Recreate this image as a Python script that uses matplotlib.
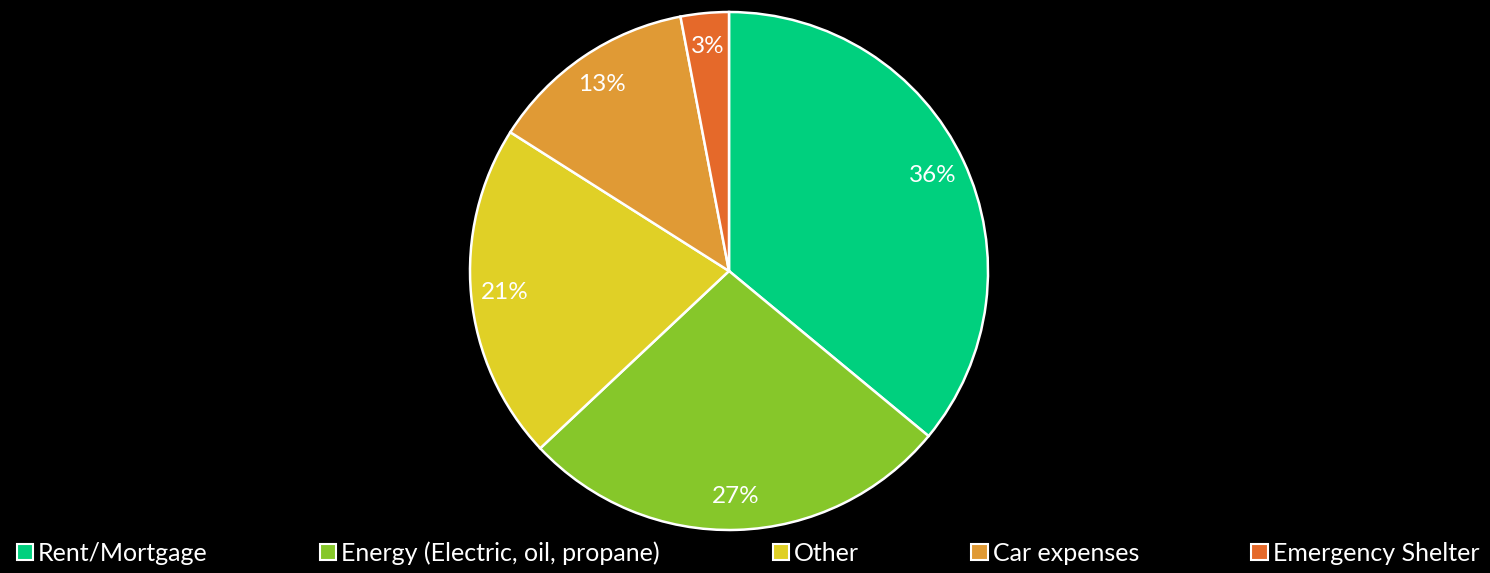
import matplotlib
matplotlib.use("Agg")
import matplotlib.pyplot as plt
from matplotlib.patches import Patch

categories = ["Rent/Mortgage", "Energy (Electric, oil, propane)", "Other", "Car expenses", "Emergency Shelter"]
values = [36, 27, 21, 13, 3]
colors = ["#00D07E", "#86C72A", "#E0D026", "#E09A35", "#E5692A"]

plt.rcParams['font.family'] = ['Lato', 'DejaVu Sans']

W, H = 1490, 573
fig = plt.figure(figsize=(W / 100, H / 100), dpi=100, facecolor="black")
ax = fig.add_axes([0, 0, 1, 1])
ax.set_facecolor("black")

wedges, texts, autotexts = ax.pie(
    values, colors=colors, startangle=90, counterclock=False,
    center=(729, H - 271), radius=259,
    autopct="%d%%", pctdistance=0.87,
    wedgeprops=dict(edgecolor="white", linewidth=1.8),
    textprops=dict(color="white", fontsize=17.5),
)
ax.set_xlim(0, W)
ax.set_ylim(0, H)
ax.set_aspect("equal")
ax.axis("off")

handles = [Patch(facecolor=c, edgecolor="white", linewidth=1.5) for c in colors]
leg = fig.legend(handles, categories, loc="center", bbox_to_anchor=(0.502, 1 - 553 / H),
                 ncol=5, frameon=False, fontsize=18, labelcolor="white",
                 handlelength=0.65, handleheight=0.65, handletextpad=0.2,
                 columnspacing=4.5, borderaxespad=0)

fig.savefig("out.png", dpi=100, facecolor="black")
